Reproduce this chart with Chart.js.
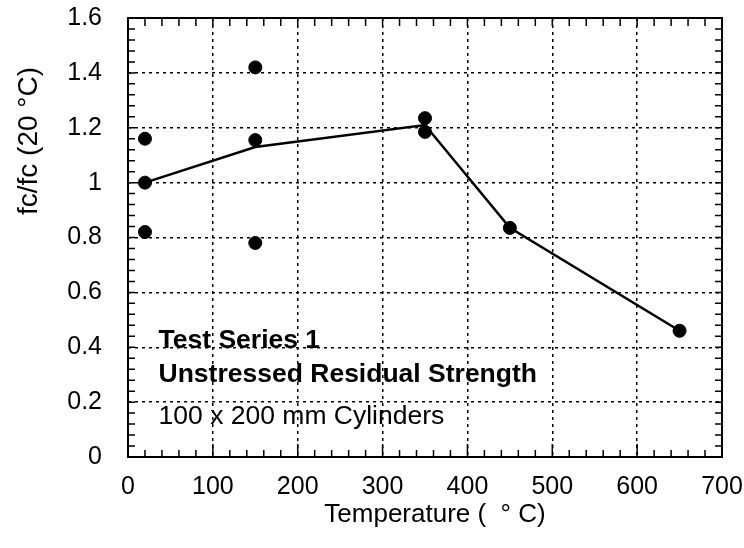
<!DOCTYPE html>
<html>
<head>
<meta charset="utf-8">
<script src="https://cdn.jsdelivr.net/npm/chart.js@4/dist/chart.umd.min.js"></script>
<style>
	html, body { margin: 0; padding: 0; background: #fff; }
	#wrap { width: 744px; height: 548px; }
</style>
</head>
<body>
<div id="wrap"><canvas id="chart"></canvas></div>
<script>
/* Individual cylinder results. */
const testTemps = [20, 20, 20, 150, 150, 150, 350, 350, 450, 650];
const testRatios = [1.16, 1.0, 0.82, 1.42, 1.155, 0.78, 1.235, 1.185, 0.835, 0.46];

/* Mean curve. */
const meanTemps = [20, 150, 350, 450, 650];
const meanRatios = [1.0, 1.13, 1.21, 0.835, 0.46];

/* Tick labels. */
const xTickLabels = ["0", "100", "200", "300", "400", "500", "600", "700"];
const yTickLabels = ["0", "0.2", "0.4", "0.6", "0.8", "1", "1.2", "1.4", "1.6"];

const noteLines = ["Test Series 1", "Unstressed Residual Strength", "100 x 200 mm Cylinders"];

const FONT = "'Liberation Sans', Arial, sans-serif";
Chart.defaults.font.family = FONT;
Chart.defaults.color = "#000";

/* Frame, inside ticks, titles and the note. */
const decor = {
	id: "decor",
	afterDraw(chart) {
		const ctx = chart.ctx;
		const a = chart.chartArea;
		const xs = chart.scales.x;
		const ys = chart.scales.y;
		ctx.save();
		ctx.strokeStyle = "#000";
		ctx.lineWidth = 2;
		ctx.strokeRect(a.left, a.top, a.right - a.left, a.bottom - a.top);

		ctx.lineWidth = 1.5;
		ctx.beginPath();
		for (let v = 0; v <= 700; v += 20) {
			const px = xs.getPixelForValue(v);
			const major = v % 100 === 0;
			ctx.moveTo(px, a.bottom);
			ctx.lineTo(px, a.bottom - (major ? 13 : 7));
			ctx.moveTo(px, a.top);
			ctx.lineTo(px, a.top + 8);
		}
		for (let i = 0; i <= 40; i++) {
			const py = ys.getPixelForValue(i * 0.04);
			ctx.moveTo(a.left, py);
			ctx.lineTo(a.left + 7, py);
			ctx.moveTo(a.right, py);
			ctx.lineTo(a.right - 7, py);
		}
		ctx.stroke();

		ctx.fillStyle = "#000";
		ctx.textBaseline = "alphabetic";
		ctx.textAlign = "left";
		const nx = xs.getPixelForValue(36);
		ctx.font = "bold 26.5px " + FONT;
		ctx.fillText(noteLines[0], nx, ys.getPixelForValue(0.399));
		ctx.fillText(noteLines[1], nx, ys.getPixelForValue(0.275));
		ctx.font = "26.5px " + FONT;
		ctx.fillText(noteLines[2], nx, ys.getPixelForValue(0.12));

		ctx.font = "26px " + FONT;
		ctx.textAlign = "center";
		ctx.textBaseline = "middle";
		ctx.fillText("Temperature (  \u00B0 C)", (a.left + a.right) / 2 + 10, 515);

		ctx.font = "28px " + FONT;
		ctx.translate(29, 141);
		ctx.rotate(-Math.PI / 2);
		ctx.fillText("fc/fc (20 \u00B0C)", 0, 0);
		ctx.restore();
	}
};

new Chart(
	document.getElementById("chart"),
	{
		type: "scatter",
		data:
		{
			datasets:
			[
				{
					label: "Tests",
					data: testTemps.map((t, i) => ({ x: t, y: testRatios[i] })),
					backgroundColor: "#000",
					borderColor: "#000",
					pointRadius: 6.5,
					pointHoverRadius: 6.5,
					order: 0,
				},
				{
					label: "Mean",
					type: "line",
					data: meanTemps.map((t, i) => ({ x: t, y: meanRatios[i] })),
					borderColor: "#000",
					borderWidth: 2.5,
					pointRadius: 0,
					fill: false,
					tension: 0,
					order: 1,
				},
			],
		},
		options:
		{
			responsive: true,
			maintainAspectRatio: false,
			animation: false,
			layout: { padding: { top: 18, right: 22, left: 0, bottom: 0 } },
			plugins:
			{
				legend: { display: false },
				tooltip: { enabled: false },
			},
			scales:
			{
				x:
				{
					type: "linear",
					min: 0,
					max: 700,
					afterFit: (s) => {
						s.height = 91;
						s.paddingLeft = 0;
						s.paddingRight = 0;
					},
					ticks:
					{
						stepSize: 100,
						padding: 15,
						font: { size: 25 },
						color: "#000",
						maxRotation: 0,
						callback: (v, i) => xTickLabels[i],
					},
					grid: { color: "#000", lineWidth: 1.5, drawTicks: false },
					border: { display: false, dash: [3, 4] },
				},
				y:
				{
					min: 0,
					max: 1.6,
					afterFit: (s) => {
						s.width = 128;
						s.paddingTop = 0;
						s.paddingBottom = 0;
					},
					ticks:
					{
						stepSize: 0.2,
						padding: 26,
						font: { size: 25 },
						color: "#000",
						callback: (v, i) => yTickLabels[i],
					},
					grid: { color: "#000", lineWidth: 1.5, drawTicks: false },
					border: { display: false, dash: [3, 4] },
				},
			},
		},
		plugins: [decor],
	}
)
</script>
</body>
</html>
